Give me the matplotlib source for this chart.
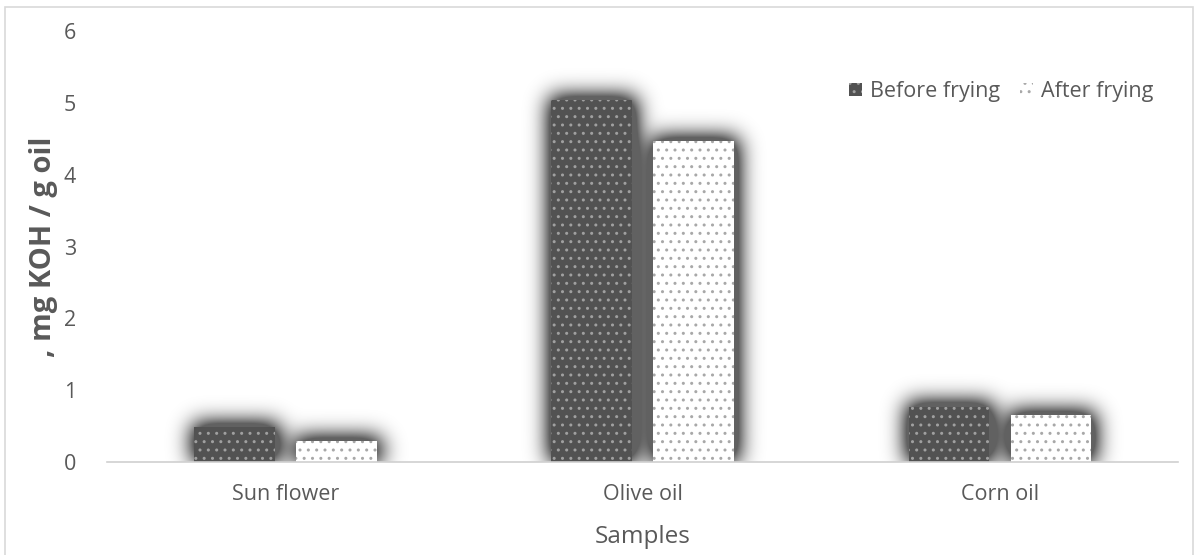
import matplotlib
matplotlib.use("Agg")
import matplotlib.pyplot as plt
import numpy as np
from matplotlib.patches import Rectangle
from matplotlib.legend_handler import HandlerBase

samples = ["Sun flower", "Olive oil", "Corn oil"]
before_frying = [0.49, 5.04, 0.77]
after_frying = [0.29, 4.47, 0.65]
series_names = ["Before frying", "After frying"]
yticks = [0, 1, 2, 3, 4, 5, 6]

plt.rcParams["font.family"] = ["Open Sans", "DejaVu Sans"]
text_gray = "#595959"
dark = "#525252"

fig = plt.figure(figsize=(12, 5.55), dpi=100)
ax = fig.add_axes([0.089, 0.1676, 0.893, 0.7764])

x = np.arange(len(samples))
width = 0.225
offset = 0.143
xlim = (-0.5, 2.5)
ylim = (0, 6)


def gaussian_blur(img, sigma):
    r = int(3 * sigma)
    k = np.exp(-0.5 * (np.arange(-r, r + 1) / sigma) ** 2)
    k /= k.sum()
    pad = np.pad(img, r, mode="constant")
    tmp = np.apply_along_axis(lambda m: np.convolve(m, k, mode="valid"), 1, pad)
    return np.apply_along_axis(lambda m: np.convolve(m, k, mode="valid"), 0, tmp)


# soft outer shadow behind all bars
nx, ny = 1072, 431
gx = np.linspace(xlim[0], xlim[1], nx)
gy = np.linspace(ylim[1], ylim[0], ny)
X, Y = np.meshgrid(gx, gy)
mask = np.zeros((ny, nx))
for xpos, vals in ((x - offset, before_frying), (x + offset, after_frying)):
    for xv, v in zip(xpos, vals):
        mask[(np.abs(X - xv - 0.004) <= width / 2 + 0.008) & (Y <= v + 0.04)] = 1.0
shadow = gaussian_blur(mask, 11.0)
rgba = np.zeros((ny, nx, 4))
rgba[..., 3] = np.clip(shadow * 1.3, 0, 0.62)
ax.imshow(rgba, extent=(xlim[0], xlim[1], ylim[0], ylim[1]), aspect="auto",
          interpolation="bilinear", zorder=1)


def dotted_bars(xpos, vals, face, dot):
    ax.bar(xpos, vals, width, color=face, edgecolor="none", zorder=2)
    ax.bar(xpos, vals, width, color="none", edgecolor=dot, hatch="..",
           linewidth=0, zorder=3)


dotted_bars(x - offset, before_frying, dark, "#a0a0a0")
dotted_bars(x + offset, after_frying, "white", "#a8a8a8")

ax.set_xlim(*xlim)
ax.set_ylim(*ylim)
ax.set_yticks(yticks)
ax.set_xticks(x)
ax.set_xticklabels(samples)
ax.tick_params(axis="both", length=0, labelsize=15.5, colors=text_gray)
ax.tick_params(axis="y", pad=22)
ax.tick_params(axis="x", pad=16)
for s in ["top", "right", "left"]:
    ax.spines[s].set_visible(False)
ax.spines["bottom"].set_color("#d0d0d0")
ax.spines["bottom"].set_linewidth(1.2)
ax.spines["bottom"].set_zorder(5)

ax.set_xlabel("Samples", fontsize=17.5, color=text_gray, labelpad=14)
ax.set_ylabel(", mg KOH / g oil", fontsize=21, fontweight="bold",
              color=text_gray, labelpad=4)


class DotSquare(HandlerBase):
    def __init__(self, face, dot):
        super().__init__()
        self.face, self.dot = face, dot

    def create_artists(self, legend, orig_handle, xdescent, ydescent,
                       width, height, fontsize, trans):
        s = height * 0.85
        x0 = xdescent + width - s
        y0 = -ydescent + (height - s) / 2
        r1 = Rectangle((x0, y0), s, s, facecolor=self.face, edgecolor="none",
                       transform=trans)
        r2 = Rectangle((x0, y0), s, s, facecolor="none", edgecolor=self.dot,
                       hatch="..", linewidth=0, transform=trans)
        return [r1, r2]


h1 = Rectangle((0, 0), 1, 1)
h2 = Rectangle((0, 0), 1, 1)
ax.legend([h1, h2], series_names, loc="center right",
          bbox_to_anchor=(0.985, 0.86), ncol=2, frameon=False,
          fontsize=15.5, labelcolor=text_gray, handlelength=0.8,
          handletextpad=0.4, columnspacing=0.7, borderaxespad=0,
          handler_map={h1: DotSquare(dark, "#a0a0a0"),
                       h2: DotSquare("white", "#a8a8a8")})

# outer chart border
fig.add_artist(Rectangle((5 / 1200, -0.01), 1188 / 1200, 1 - 7 / 555 + 0.01,
                         transform=fig.transFigure, facecolor="none",
                         edgecolor="#d9d9d9", linewidth=1.2))

fig.savefig("out.png", dpi=100)
